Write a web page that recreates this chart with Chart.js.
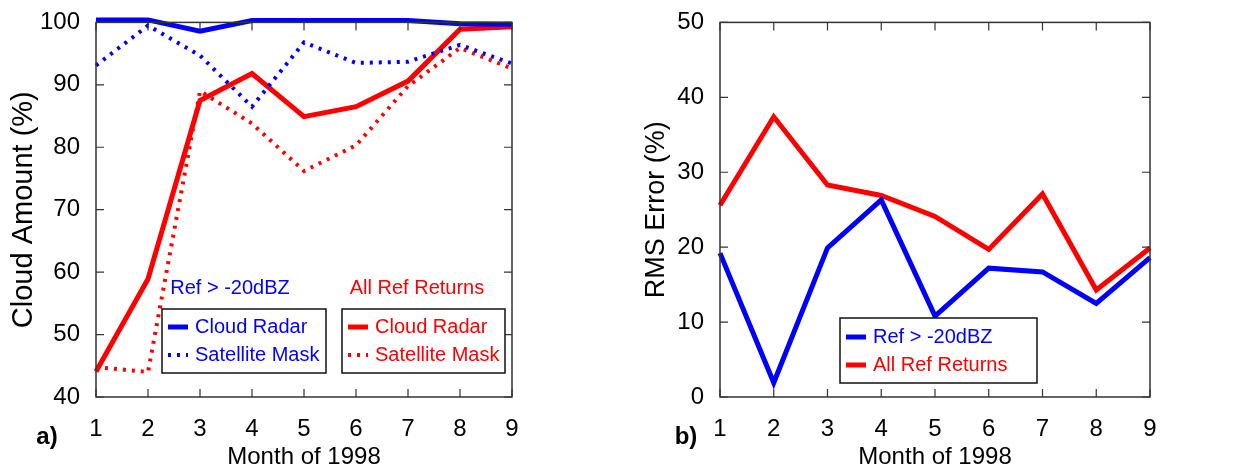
<!DOCTYPE html>
<html>
<head>
<meta charset="utf-8">
<script src="https://cdn.jsdelivr.net/npm/chart.js@4.4.1/dist/chart.umd.min.js"></script>
<style>
  body { margin: 0; background: #fff; width: 1260px; height: 469px; overflow: hidden; position: relative; }
  canvas { position: absolute; top: 0; }
  #chartA { left: 0; }
  #chartB { left: 630px; }
</style>
</head>
<body>
<canvas id="chartA" width="630" height="469"></canvas>
<canvas id="chartB" width="630" height="469"></canvas>
<script>
// ---- data ----
const months = [1, 2, 3, 4, 5, 6, 7, 8, 9];

// panel a) cloud amount (%)
const radarRef20 = [100.4, 100.4, 98.6, 100.3, 100.3, 100.3, 100.3, 99.8, 99.7];
const satRef20   = [93.1, 99.5, 94.7, 86.5, 96.8, 93.5, 93.7, 96.4, 93.4];
const radarAll   = [44.1, 58.9, 87.5, 91.8, 84.9, 86.5, 90.6, 98.9, 99.3];
const satAll     = [44.8, 44.0, 89.0, 83.8, 76.2, 80.3, 89.8, 95.9, 92.6];

// panel b) RMS error (%)
const rmsRef20 = [19.2, 1.9, 19.9, 26.3, 10.8, 17.2, 16.7, 12.5, 18.6];
const rmsAll   = [25.6, 37.4, 28.3, 26.9, 24.1, 19.7, 27.1, 14.3, 19.9];

const BLUE = '#0000ff';
const RED = '#ff0000';
const FONT = "'Liberation Sans', Arial, Helvetica, sans-serif";

// frame with inward ticks on all four sides, boxed legends, panel letter
const framePlugin = {
    id: 'frame',
    afterDraw(chart, args, opts) {
        const { ctx, chartArea: a, scales } = chart;
        ctx.save();

        ctx.strokeStyle = '#333';
        ctx.lineWidth = 1.5;
        ctx.strokeRect(a.left, a.top, a.right - a.left, a.bottom - a.top);

        ctx.lineWidth = 1.2;
        ctx.beginPath();
        scales.y.ticks.forEach(t => {
            const y = scales.y.getPixelForValue(t.value);
            ctx.moveTo(a.left, y); ctx.lineTo(a.left + 8, y);
            ctx.moveTo(a.right, y); ctx.lineTo(a.right - 8, y);
        });
        scales.x.ticks.forEach((t, i) => {
            const x = scales.x.getPixelForTick(i);
            ctx.moveTo(x, a.bottom); ctx.lineTo(x, a.bottom - 8);
            ctx.moveTo(x, a.top); ctx.lineTo(x, a.top + 8);
        });
        ctx.stroke();

        // legend boxes
        (opts.boxes || []).forEach(b => {
            if (b.title) {
                ctx.fillStyle = b.titleColor;
                ctx.font = '20px ' + FONT;
                ctx.textAlign = 'center';
                ctx.textBaseline = 'middle';
                ctx.fillText(b.title, b.titleX, b.titleY);
            }
            ctx.fillStyle = '#fff';
            ctx.fillRect(b.x, b.y, b.w, b.h);
            ctx.strokeStyle = '#111';
            ctx.lineWidth = 1.5;
            ctx.setLineDash([]);
            ctx.strokeRect(b.x, b.y, b.w, b.h);

            b.items.forEach((idx, r) => {
                const ds = chart.data.datasets[idx];
                const y = b.rows[r];
                ctx.strokeStyle = ds.borderColor;
                ctx.lineWidth = ds.borderDash ? 4 : 5;
                ctx.setLineDash(ds.borderDash || []);
                ctx.beginPath();
                ctx.moveTo(b.x + 6, y);
                ctx.lineTo(b.x + 26, y);
                ctx.stroke();
                ctx.setLineDash([]);
                ctx.fillStyle = ds.borderColor;
                ctx.font = '20px ' + FONT;
                ctx.textAlign = 'left';
                ctx.textBaseline = 'middle';
                ctx.fillText(ds.label, b.x + 33, y);
            });
        });

        if (opts.panel) {
            ctx.fillStyle = '#000';
            ctx.font = 'bold 24px ' + FONT;
            ctx.textAlign = 'center';
            ctx.textBaseline = 'middle';
            ctx.fillText(opts.panel, opts.panelX, opts.panelY);
        }
        ctx.restore();
    }
};

function solid(label, data, color) {
    return { label, data, borderColor: color, borderWidth: 5, pointRadius: 0, tension: 0, clip: 8 };
}
function dotted(label, data, color) {
    return { label, data, borderColor: color, borderWidth: 4, borderDash: [3, 6], pointRadius: 0, tension: 0, clip: 8 };
}

function axes(yMin, yMax, yTitle, yWidth, yTitlePad, yTitleSize) {
    return {
        x: {
            type: 'category',
            offset: false,
            grid: { display: false },
            border: { display: false },
            ticks: { color: '#000', padding: 10, maxRotation: 0, font: { size: 24, family: FONT } },
            title: { display: true, text: 'Month of 1998', color: '#000', padding: 0,
                     font: { size: 24, family: FONT, lineHeight: 1 } },
            afterFit: s => { s.height = 72; }
        },
        y: {
            min: yMin, max: yMax,
            grid: { display: false },
            border: { display: false },
            ticks: { stepSize: 10, color: '#000', padding: 8, font: { size: 24, family: FONT } },
            title: { display: true, text: yTitle, color: '#000', padding: { top: yTitlePad, bottom: 0 },
                     font: { size: yTitleSize, family: FONT, lineHeight: 1 } },
            afterFit: s => { s.width = yWidth; }
        }
    };
}

const commonOpts = {
    responsive: false,
    animation: false,
    devicePixelRatio: 1,
    events: []
};

new Chart(document.getElementById('chartA'), {
    type: 'line',
    data: {
        labels: months,
        datasets: [
            solid('Cloud Radar', radarRef20, BLUE),
            dotted('Satellite Mask', satRef20, BLUE),
            solid('Cloud Radar', radarAll, RED),
            dotted('Satellite Mask', satAll, RED)
        ]
    },
    options: Object.assign({}, commonOpts, {
        layout: { padding: { left: 0, top: 17, right: 118, bottom: 0 } },
        plugins: {
            legend: { display: false },
            tooltip: { enabled: false },
            frame: {
                panel: 'a)', panelX: 47, panelY: 437,
                boxes: [
                    { x: 162, y: 309, w: 164, h: 64, title: 'Ref > -20dBZ', titleColor: BLUE,
                      titleX: 230, titleY: 288, items: [0, 1], rows: [327, 355] },
                    { x: 342, y: 309, w: 163, h: 64, title: 'All Ref Returns', titleColor: RED,
                      titleX: 417, titleY: 288, items: [2, 3], rows: [327, 355] }
                ]
            }
        },
        scales: axes(40, 100, 'Cloud Amount (%)', 96, 9, 29)
    }),
    plugins: [framePlugin]
});

new Chart(document.getElementById('chartB'), {
    type: 'line',
    data: {
        labels: months,
        datasets: [
            solid('Ref > -20dBZ', rmsRef20, BLUE),
            solid('All Ref Returns', rmsAll, RED)
        ]
    },
    options: Object.assign({}, commonOpts, {
        layout: { padding: { left: 0, top: 16, right: 110, bottom: 0 } },
        plugins: {
            legend: { display: false },
            tooltip: { enabled: false },
            frame: {
                panel: 'b)', panelX: 56, panelY: 437,
                boxes: [
                    { x: 210, y: 318, w: 197, h: 65, items: [0, 1], rows: [337, 365] }
                ]
            }
        },
        scales: axes(0, 50, 'RMS Error (%)', 90, 13, 27)
    }),
    plugins: [framePlugin]
});
</script>
</body>
</html>
